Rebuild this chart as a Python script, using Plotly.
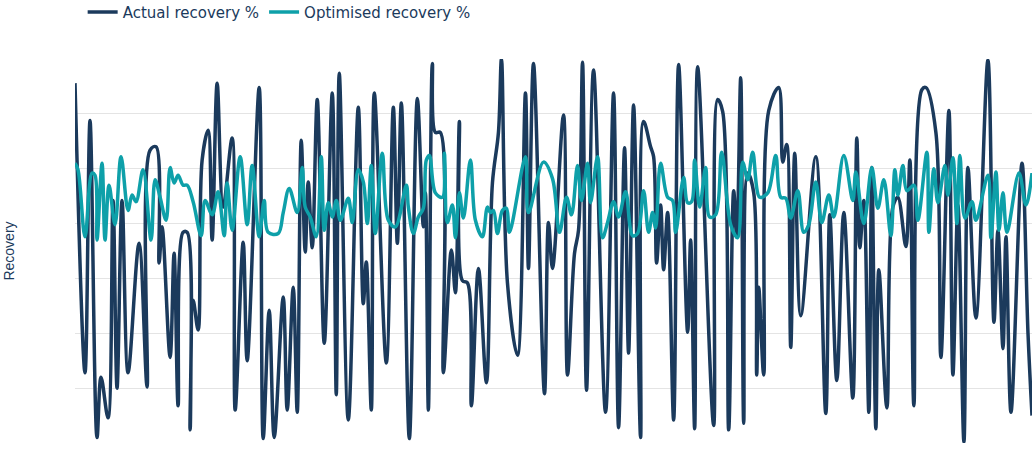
import plotly.graph_objects as go

# sample index / recovery % (turning points of each trace)
actual_x = [0, 10, 15, 22, 26, 33, 38, 42, 47, 53, 64, 72, 75, 81, 84, 87, 95, 99, 103, 108,
            112, 115, 118, 123, 127, 133, 137, 142, 148, 157, 160, 168, 172, 184, 188, 194, 199, 208, 212, 218,
            222, 226, 230, 233, 237, 242, 249, 257, 261, 264, 273, 283, 288, 291, 296, 299, 311, 318, 322, 326,
            334, 342, 348, 350, 353, 357, 360, 365, 368, 376, 380, 384, 387, 392, 396, 403, 411, 417, 423, 426,
            432, 442, 450, 453, 458, 469, 473, 477, 488, 492, 499, 503, 507, 511, 518, 530, 538, 543, 549, 553,
            558, 565, 568, 575, 578, 581, 585, 588, 592, 598, 603, 612, 615, 619, 622, 638, 642, 647, 653, 658,
            661, 665, 668, 672, 678, 681, 683, 688, 693, 703, 707, 711, 715, 719, 725, 740, 750, 754, 761, 768,
            777, 781, 784, 788, 793, 796, 800, 803, 811, 817, 822, 830, 834, 838, 846, 850, 860, 865, 873, 877,
            882, 888, 892, 900, 912, 918, 922, 927, 930, 935, 946, 952, 956]
actual = [92.8, 66.4, 89.4, 60.5, 66.0, 62.3, 82.1, 65.0, 82.1, 66.4, 78.2, 65.1, 86.7, 87.0, 76.4, 79.7, 67.8, 77.3, 63.4, 79.2,
          79.2, 61.2, 73.0, 70.3, 85.8, 88.5, 78.5, 92.8, 81.5, 87.8, 63.0, 78.3, 67.5, 92.4, 60.4, 72.1, 60.5, 73.3, 63.0, 74.2,
          62.8, 87.6, 77.4, 83.8, 77.8, 91.3, 69.1, 91.9, 64.4, 93.7, 62.1, 90.6, 72.7, 76.5, 63.0, 91.9, 67.3, 90.6, 78.2, 91.0,
          60.4, 91.4, 79.7, 82.8, 63.0, 94.6, 88.3, 88.3, 66.4, 77.6, 73.7, 89.3, 74.8, 74.6, 63.4, 75.9, 65.5, 83.7, 88.3, 95.0,
          74.6, 68.0, 91.9, 75.9, 94.6, 64.5, 80.1, 75.9, 89.9, 66.2, 77.3, 79.4, 94.7, 64.8, 94.0, 62.8, 91.9, 61.4, 86.9, 68.2,
          90.8, 60.5, 89.3, 87.0, 86.1, 76.4, 81.7, 75.8, 81.0, 62.1, 94.5, 70.1, 78.5, 61.3, 94.3, 61.6, 91.3, 90.2, 61.2, 83.0,
          78.8, 93.3, 61.8, 84.6, 82.8, 66.2, 74.2, 66.2, 90.3, 92.4, 85.6, 87.2, 68.7, 86.4, 71.6, 86.1, 62.7, 80.8, 65.7, 81.0,
          64.1, 87.8, 77.8, 82.1, 62.8, 85.1, 61.3, 75.8, 63.2, 81.5, 82.4, 77.9, 85.8, 63.4, 92.2, 92.4, 88.3, 67.8, 90.3, 66.2,
          81.7, 60.1, 85.1, 71.4, 94.9, 71.0, 79.4, 68.6, 78.8, 62.8, 85.5, 70.0, 62.5]

optimised_x = [0, 3, 10, 17, 20, 22, 27, 30, 34, 40, 46, 53, 57, 61, 68, 76, 80, 85, 91, 95,
               99, 103, 108, 112, 118, 126, 130, 137, 143, 149, 152, 157, 165, 172, 177, 184, 189, 193, 203, 208,
               214, 222, 227, 230, 235, 241, 246, 249, 253, 257, 261, 265, 273, 277, 283, 288, 292, 296, 300, 307,
               313, 320, 331, 333, 338, 343, 348, 351, 354, 360, 367, 369, 372, 377, 380, 384, 388, 395, 400, 407,
               412, 415, 418, 422, 427, 431, 434, 450, 453, 468, 477, 484, 491, 496, 502, 506, 512, 515, 522, 527,
               532, 538, 543, 550, 557, 562, 568, 573, 577, 580, 585, 592, 597, 600, 608, 612, 616, 619, 624, 630,
               634, 640, 646, 655, 662, 667, 672, 677, 684, 692, 700, 705, 710, 715, 722, 728, 733, 740, 746, 753,
               758, 768, 777, 780, 788, 796, 802, 808, 815, 819, 822, 827, 831, 838, 842, 851, 853, 858, 862, 869,
               872, 877, 881, 884, 889, 896, 900, 912, 915, 920, 923, 927, 931, 943, 950, 956]
optimised = [85.5, 84.9, 78.8, 84.6, 84.4, 78.5, 85.5, 78.5, 83.5, 79.9, 86.1, 81.2, 82.6, 82.0, 84.9, 78.5, 84.0, 82.4, 80.3, 85.1,
             83.7, 84.4, 83.5, 83.5, 82.0, 78.9, 82.1, 80.8, 82.9, 78.9, 83.7, 79.4, 86.1, 79.9, 85.3, 78.8, 82.1, 79.2, 79.1, 81.0,
             83.2, 81.0, 85.1, 81.5, 80.6, 78.8, 86.1, 79.4, 81.9, 80.6, 82.1, 80.3, 82.3, 80.1, 84.9, 83.8, 80.0, 85.3, 79.1, 86.4,
             80.3, 79.7, 83.5, 81.5, 79.1, 80.6, 81.4, 85.8, 86.2, 82.8, 82.4, 86.4, 80.1, 81.7, 78.7, 82.8, 80.5, 85.8, 80.3, 78.8,
             81.5, 81.0, 81.2, 79.1, 81.2, 81.4, 79.2, 86.1, 81.0, 85.6, 84.1, 79.2, 82.4, 80.8, 85.3, 82.1, 85.5, 81.9, 86.1, 78.7,
             80.1, 82.0, 80.6, 82.9, 78.9, 79.1, 83.0, 79.2, 81.0, 79.6, 85.5, 82.4, 82.1, 79.2, 84.2, 81.9, 82.0, 85.8, 81.5, 85.1,
             80.6, 80.8, 86.5, 79.9, 78.7, 85.6, 84.0, 86.5, 82.4, 82.8, 86.2, 82.4, 82.3, 80.5, 83.0, 79.2, 79.9, 83.8, 80.1, 82.6,
             80.6, 86.2, 82.1, 84.7, 80.0, 85.1, 81.4, 84.0, 78.9, 84.9, 82.6, 85.3, 83.0, 83.5, 80.3, 86.5, 79.2, 85.0, 81.9, 85.3,
             82.6, 86.0, 80.0, 86.2, 80.5, 82.0, 80.3, 84.4, 78.7, 84.7, 79.4, 82.8, 79.2, 84.6, 81.7, 84.6]

NAVY = '#1b3a5c'
TEAL = '#0ea0a9'

fig = go.Figure()

fig.add_trace(go.Scatter(
    x=actual_x, y=actual, mode='lines', name='Actual recovery %',
    line=dict(color=NAVY, width=3.5, shape='spline', smoothing=1.0)))

fig.add_trace(go.Scatter(
    x=optimised_x, y=optimised, mode='lines', name='Optimised recovery %',
    line=dict(color=TEAL, width=3.5, shape='spline', smoothing=1.0)))

fig.update_layout(
    width=1035, height=451,
    plot_bgcolor='white', paper_bgcolor='white',
    font=dict(family='DejaVu Sans', color=NAVY),
    margin=dict(l=75, r=3, t=59, b=8, autoexpand=False),
    showlegend=True,
    legend=dict(
        orientation='h', x=0.008, xanchor='left', y=1.165, yanchor='top',
        font=dict(family='DejaVu Sans', size=15, color=NAVY),
        bgcolor='rgba(0,0,0,0)'),
    xaxis=dict(
        range=[0, 956], showgrid=False, zeroline=False,
        showticklabels=False, showline=False, ticks=''),
    yaxis=dict(
        range=[60, 95], dtick=5, tick0=60, showgrid=True,
        gridcolor='#e4e4e4', gridwidth=1, zeroline=False,
        showticklabels=False, ticks='',
        title=dict(text='Recovery', standoff=56,
                   font=dict(family='Liberation Sans', size=14, color=NAVY))),
)

# page has no body margin so the figure fills the window exactly
fig.write_html('out.html', config={'displayModeBar': False},
               post_script="document.body.style.margin='0px';")
